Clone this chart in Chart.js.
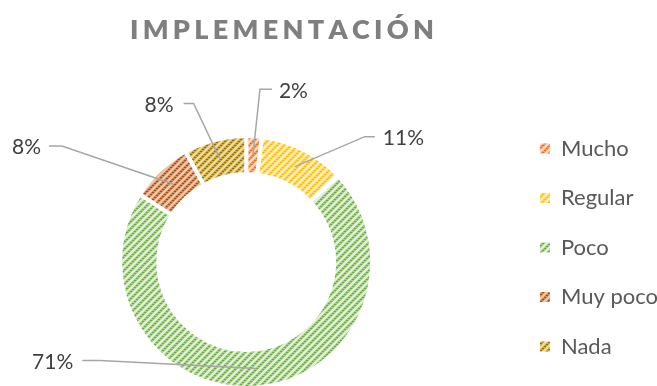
<!DOCTYPE html>
<html>
<head>
<meta charset="utf-8">
<script src="https://cdn.jsdelivr.net/npm/chart.js@4"></script>
<style>
  html, body { margin: 0; padding: 0; background: #ffffff; overflow: hidden; }
  /* visible frame; the drawing surface runs a little past its left, right and bottom edges */
  #frame { width: 657px; height: 386px; position: relative; overflow: hidden; }
  #wrap { position: absolute; left: -20px; top: 0; width: 688px; height: 414px; }
</style>
</head>
<body>
<div id="frame"><div id="wrap"><canvas id="c"></canvas></div></div>
<script>
// ---- chart content ----
const titleText = 'IMPLEMENTACIÓN';
const categories = ['Mucho', 'Regular', 'Poco', 'Muy poco', 'Nada'];
const percentages = [2, 11, 71, 8, 8];

// Hatched fill tones per slice: [stripe, mid tone, light tone]
const sliceTones = [
  ['#E9731F', '#F2A36C', '#FAD8C0'],
  ['#FFBE00', '#FFD55C', '#FFEEB8'],
  ['#6CAB42', '#A7CF8B', '#DFEFD4'],
  ['#A24F15', '#D28C5E', '#EEC7AA'],
  ['#977200', '#CCAA48', '#ECDA9C']
];

// Leader lines: elbow offset from the ring anchor, horizontal arm length, text gap
const leaderLayout = [
  { elbow: [7, -66], arm: 12, gap: 7 },
  { elbow: [70, -30], arm: 10, gap: 8 },
  { elbow: [-156, -8], arm: -18, gap: 9 },
  { elbow: [-111, -38], arm: -13, gap: 8 },
  { elbow: [-26, -55], arm: -10, gap: 10 }
];

// Upward-diagonal hatch tile, dotted along each stripe
function hatch(tones) {
  const [fg, mid, light] = tones;
  const size = 14, period = 7;
  const cv = document.createElement('canvas');
  cv.width = size; cv.height = size;
  const g = cv.getContext('2d');
  for (let y = 0; y < size; y++) {
    for (let x = 0; x < size; x++) {
      const d = (x + y) % period;
      let col;
      if (d === 0) col = (x % 2 === 0) ? fg : mid;
      else if (d === 1) col = (x % 2 === 1) ? fg : mid;
      else if (d === 2 || d === 6) col = mid;
      else col = light;
      g.fillStyle = col;
      g.fillRect(x, y, 1, 1);
    }
  }
  return g.createPattern(cv, 'repeat');
}
const slicePatterns = sliceTones.map(hatch);

// Percentage labels with bent leader lines
const leaderLabels = {
  id: 'leaderLabels',
  afterDatasetsDraw(chart) {
    const ctx = chart.ctx;
    const arcs = chart.getDatasetMeta(0).data;
    ctx.save();
    arcs.forEach((arc, i) => {
      const p = arc.getProps(['x', 'y', 'startAngle', 'endAngle', 'innerRadius', 'outerRadius'], true);
      const mid = (p.startAngle + p.endAngle) / 2;
      const r = (p.innerRadius + p.outerRadius) / 2;
      const ax = p.x + Math.cos(mid) * r;
      const ay = p.y + Math.sin(mid) * r;
      const L = leaderLayout[i];
      const ex = ax + L.elbow[0];
      const ey = ay + L.elbow[1];
      const tx = ex + L.arm;
      ctx.beginPath();
      ctx.moveTo(ax, ay);
      ctx.lineTo(ex, ey);
      ctx.lineTo(tx, ey);
      ctx.strokeStyle = '#A6A6A6';
      ctx.lineWidth = 1.5;
      ctx.stroke();
      const toRight = L.arm > 0;
      ctx.font = '21px Lato';
      ctx.fillStyle = '#404040';
      ctx.textBaseline = 'middle';
      ctx.textAlign = toRight ? 'left' : 'right';
      ctx.fillText(percentages[i] + '%', tx + (toRight ? L.gap : -L.gap), ey + 1.5);
    });
    ctx.restore();
  }
};

// Letter-spaced heading, centred over the doughnut
const spacedTitle = {
  id: 'spacedTitle',
  afterDraw(chart) {
    const ctx = chart.ctx;
    ctx.save();
    ctx.font = '800 27px Lato';
    ctx.fillStyle = '#7F7F7F';
    ctx.textAlign = 'left';
    ctx.textBaseline = 'alphabetic';
    const gap = 4.3;
    const chars = Array.from(titleText);
    const widths = chars.map(c => ctx.measureText(c).width);
    const total = widths.reduce((a, b) => a + b, 0) + gap * (chars.length - 1);
    let x = 302 - total / 2;
    chars.forEach((c, k) => { ctx.fillText(c, x, 39); x += widths[k] + gap; });
    ctx.restore();
  }
};

new Chart(document.getElementById('c'), {
  type: 'doughnut',
  data: {
    labels: categories,
    datasets: [{
      data: percentages,
      backgroundColor: slicePatterns,
      borderColor: '#ffffff',
      borderWidth: 4,
      borderJoinStyle: 'miter',
      radius: 126,
      cutout: '69.8%',
      hoverOffset: 0
    }]
  },
  options: {
    responsive: true,
    maintainAspectRatio: false,
    animation: false,
    events: [],
    layout: { padding: { top: 110, bottom: 0, left: 0, right: 0 } },
    plugins: {
      tooltip: { enabled: false },
      legend: {
        position: 'right',
        align: 'start',
        labels: {
          boxWidth: 10,
          boxHeight: 10,
          padding: 27.5,
          color: '#595959',
          font: { family: 'Lato', size: 22 },
          generateLabels(chart) {
            const items = Chart.overrides.doughnut.plugins.legend.labels.generateLabels(chart);
            items.forEach(it => { it.lineWidth = 0; });
            return items;
          }
        }
      }
    }
  },
  plugins: [leaderLabels, spacedTitle]
});
</script>
</body>
</html>
